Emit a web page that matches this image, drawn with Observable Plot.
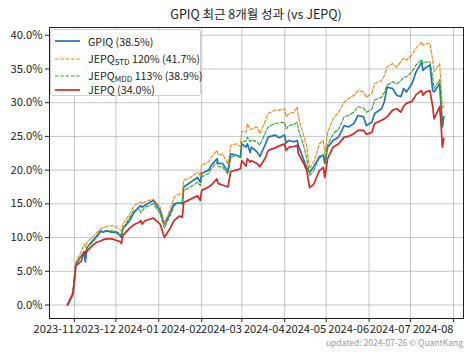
<!DOCTYPE html>
<html>
<head>
<meta charset="utf-8">
<script src="https://cdn.jsdelivr.net/npm/d3@7"></script>
<script src="https://cdn.jsdelivr.net/npm/@observablehq/plot@0.6"></script>
<style>
  body { margin: 0; background: #fff; }
  #wrap { position: relative; width: 474px; height: 355px; font-family: "Noto Sans CJK KR", "Noto Sans", sans-serif; color: #222; }
  #title { height: 24px; line-height: 28px; font-size: 12.5px; text-align: center; padding-left: 38px; box-sizing: border-box; }
  #legend { position: absolute; left: 50px; top: 29px; width: 151px; height: 67px; background: rgba(255,255,255,0.85); border: 1px solid #cfcfcf; border-radius: 3px; box-sizing: border-box; }
  .lrow { position: absolute; left: 0; height: 14px; display: flex; align-items: center; font-size: 10.7px; white-space: nowrap; }
  .lrow svg { margin-left: 4px; margin-right: 8px; }
  .lrow sub { font-size: 8px; vertical-align: -2px; }
  #footer { position: absolute; right: 11px; top: 336px; font-size: 8.5px; color: #999; }
</style>
</head>
<body>
<div id="wrap">
  <div id="title"></div>
  <div id="chart"></div>
  <div id="legend"></div>
  <div id="footer"></div>
</div>
<script>
const titleText = "GPIQ 최근 8개월 성과 (vs JEPQ)";
const footerText = "updated: 2024-07-26 © QuantKang";

const dates = [
  "2023-10-27","2023-10-31","2023-11-02","2023-11-06","2023-11-08","2023-11-09","2023-11-10","2023-11-14","2023-11-17","2023-11-20",
  "2023-11-22","2023-11-24","2023-11-28","2023-12-01","2023-12-04","2023-12-05","2023-12-06","2023-12-11","2023-12-14","2023-12-18",
  "2023-12-19","2023-12-20","2023-12-22","2023-12-28","2024-01-02","2024-01-05","2024-01-09","2024-01-12","2024-01-16","2024-01-18",
  "2024-01-19","2024-01-24","2024-01-29","2024-01-31","2024-02-01","2024-02-06","2024-02-08","2024-02-12","2024-02-13","2024-02-16",
  "2024-02-20","2024-02-22","2024-02-26","2024-02-29","2024-03-01","2024-03-04","2024-03-05","2024-03-07","2024-03-08","2024-03-12",
  "2024-03-14","2024-03-18","2024-03-20","2024-03-25","2024-03-28","2024-04-01","2024-04-02","2024-04-04","2024-04-08","2024-04-10",
  "2024-04-11","2024-04-15","2024-04-17","2024-04-19","2024-04-22","2024-04-24","2024-04-26","2024-04-29","2024-04-30","2024-05-02",
  "2024-05-06","2024-05-10","2024-05-14","2024-05-17","2024-05-21","2024-05-24","2024-05-28","2024-05-30","2024-06-03","2024-06-05",
  "2024-06-10","2024-06-12","2024-06-14","2024-06-18","2024-06-21","2024-06-24","2024-06-26","2024-06-28","2024-07-02","2024-07-05",
  "2024-07-09","2024-07-10","2024-07-12","2024-07-15","2024-07-17","2024-07-18","2024-07-22","2024-07-23","2024-07-24","2024-07-25"
];

const gpiq = [
  0, 1.8, 6.0, 7.3, 7.5, 6.4, 8.5, 9.5, 10.2, 11.0,
  10.8, 11.0, 10.8, 10.8, 10.3, 10.0, 11.3, 12.5, 13.7, 14.6,
  14.7, 14.5, 14.8, 15.5, 14.0, 12.0, 13.5, 15.0, 15.2, 15.0,
  17.5, 18.2, 18.9, 18.2, 19.5, 20.0, 20.7, 21.7, 21.0, 21.0,
  19.8, 22.4, 22.2, 21.9, 23.9, 23.4, 23.9, 22.6, 23.4, 22.7,
  22.0, 23.8, 24.9, 25.2, 24.8, 25.2, 24.0, 24.4, 24.2, 24.4,
  23.6, 21.4, 20.3, 19.7, 20.5, 21.2, 22.0, 22.2, 21.0, 23.4,
  24.4, 24.9, 26.6, 26.4, 26.9, 28.1, 27.9, 26.6, 27.1, 28.4,
  29.1, 30.1, 32.3, 32.1, 31.1, 30.9, 32.1, 31.6, 32.8, 34.6,
  36.0, 34.8, 35.2, 35.6, 31.8, 31.6, 32.8, 29.4, 26.4, 27.9
];

const jepqStd = [
  0, 1.9, 6.3, 8.0, 9.0, 8.6, 9.3, 10.0, 10.7, 11.3,
  11.5, 11.6, 11.8, 11.6, 11.2, 11.0, 12.0, 13.5, 14.7, 15.2,
  15.3, 15.0, 15.3, 15.7, 14.5, 12.2, 14.0, 16.0, 16.5, 16.3,
  18.5, 18.9, 19.7, 19.2, 20.7, 21.2, 21.9, 22.9, 22.2, 22.4,
  20.9, 23.7, 23.9, 23.5, 25.8, 25.6, 26.9, 26.0, 26.1, 26.4,
  25.4, 27.3, 28.4, 28.9, 28.9, 29.1, 27.9, 28.4, 28.6, 29.4,
  27.7, 24.9, 23.4, 20.2, 21.2, 22.4, 23.9, 24.4, 22.4, 25.6,
  27.6, 28.6, 30.1, 30.6, 31.1, 31.8, 31.6, 30.8, 31.4, 32.8,
  33.3, 34.0, 35.3, 35.8, 35.3, 36.1, 36.6, 36.3, 37.1, 38.1,
  39.0, 38.5, 38.7, 38.8, 36.3, 34.6, 35.8, 32.5, 29.1, 29.6
];

const jepqMdd = [
  0, 1.8, 6.0, 7.3, 8.0, 7.8, 8.5, 9.3, 10.0, 10.8,
  10.9, 11.0, 11.0, 10.9, 10.6, 10.3, 11.3, 13.0, 14.0, 14.3,
  13.7, 14.0, 14.5, 15.0, 13.5, 11.4, 13.2, 14.7, 15.2, 15.0,
  17.0, 17.5, 18.2, 17.7, 19.0, 19.5, 20.2, 21.2, 20.5, 20.5,
  19.4, 21.9, 22.2, 22.0, 24.2, 24.3, 24.9, 24.2, 24.5, 24.2,
  23.7, 25.5, 26.4, 26.9, 27.0, 27.1, 26.1, 26.6, 26.8, 27.1,
  26.0, 23.4, 21.7, 19.2, 19.9, 21.0, 21.7, 22.4, 20.9, 23.7,
  25.4, 26.1, 27.9, 28.1, 28.6, 29.4, 29.2, 28.6, 29.0, 30.4,
  30.8, 31.5, 32.6, 33.1, 32.8, 33.3, 33.8, 33.8, 34.6, 35.6,
  36.4, 35.8, 36.0, 36.1, 33.8, 32.1, 33.4, 30.5, 26.6, 27.9
];

const jepq = [
  0, 1.6, 5.8, 6.5, 7.9, 7.6, 8.0, 8.8, 9.3, 9.5,
  9.7, 9.8, 9.8, 9.6, 9.4, 9.1, 10.3, 11.4, 11.9, 12.3,
  12.5, 12.0, 12.5, 12.9, 12.0, 10.0, 11.3, 12.5, 13.2, 13.0,
  15.2, 15.7, 16.2, 15.5, 17.0, 17.5, 17.8, 18.7, 18.0, 17.8,
  17.5, 19.8, 20.0, 20.2, 21.4, 20.6, 21.7, 21.2, 21.4, 21.0,
  20.5, 21.8, 22.9, 23.3, 23.6, 23.9, 22.9, 23.4, 23.5, 23.7,
  22.4, 20.9, 19.9, 17.4, 17.9, 18.9, 19.9, 20.4, 18.9, 21.7,
  23.4, 23.9, 24.9, 25.0, 25.4, 25.9, 25.9, 25.3, 25.6, 26.9,
  27.4, 27.6, 27.9, 28.9, 29.1, 28.6, 29.5, 29.9, 30.2, 31.2,
  31.8, 31.1, 31.6, 31.8, 29.4, 27.6, 29.4, 26.9, 23.4, 24.7
];

const legendNames = ["GPIQ", "JEPQ", "JEPQ", "JEPQ"];
const legendSubs = ["", "STD", "MDD", ""];
const legendRest = [" (38.5%)", " 120% (41.7%)", " 113% (38.9%)", " (34.0%)"];
const yTicks = [0, 5, 10, 15, 20, 25, 30, 35, 40];
const xTickLabels = ["2023-11","2023-12","2024-01","2024-02","2024-03","2024-04","2024-05","2024-06","2024-07","2024-08"];

// styles (kept apart from data)
const colors = ["#1f77b4", "#ff7f0e", "#2ca02c", "#d62728"];
const widths = [1.7, 1.1, 1.1, 1.7];
const dashes = [null, "3.5,1.8", "3.5,1.8", null];
const legendY = [11, 28.5, 45.5, 59.5];

const parseDay = d3.utcParse("%Y-%m-%d");
const parseMonth = d3.utcParse("%Y-%m");
const seriesArrays = [gpiq, jepqStd, jepqMdd, jepq];
const tables = seriesArrays.map(arr => arr.map((v, i) => ({date: parseDay(dates[i]), value: v})));
const monthTicks = xTickLabels.map(parseMonth);

document.getElementById("title").textContent = titleText;
document.getElementById("footer").textContent = footerText;

const chart = Plot.plot({
  width: 474,
  height: 331,
  marginLeft: 49,
  marginRight: 11,
  marginTop: 3,
  marginBottom: 37,
  style: {fontFamily: "'Noto Sans CJK KR', 'Noto Sans', sans-serif", fontSize: "11px", color: "#222", background: "#fff"},
  x: {type: "utc", domain: [new Date(Date.UTC(2023, 9, 14)), new Date(Date.UTC(2024, 7, 8, 6))]},
  y: {domain: [-2.0, 41.15]},
  marks: [
    Plot.gridX(monthTicks, {stroke: "#b8b8b8", strokeOpacity: 0.8}),
    Plot.gridY(yTicks, {stroke: "#b8b8b8", strokeOpacity: 0.8}),
    Plot.axisX(monthTicks, {tickFormat: d3.utcFormat("%Y-%m"), textAnchor: "end", tickSize: 4, tickPadding: 3, fontSize: 11.1, label: null, stroke: "#222", fill: "#222"}),
    Plot.axisY(yTicks, {tickFormat: d => d.toFixed(1) + "%", tickSize: 4, tickPadding: 3, fontSize: 11.2, label: null, stroke: "#222", fill: "#222"}),
    ...tables.map((t, k) => Plot.line(t, {
      x: "date", y: "value", stroke: colors[k], strokeWidth: widths[k],
      strokeDasharray: dashes[k] || undefined, strokeLinejoin: "round"
    })),
    Plot.frame({stroke: "#222", strokeWidth: 1})
  ]
});
document.getElementById("chart").appendChild(chart);

const legend = document.getElementById("legend");
legendNames.forEach((name, k) => {
  const row = document.createElement("div");
  row.className = "lrow";
  row.style.top = (legendY[k] - 7) + "px";
  const dash = dashes[k] ? `stroke-dasharray="${dashes[k]}"` : "";
  row.innerHTML = `<svg width="25" height="6"><line x1="0" y1="3" x2="25" y2="3" stroke="${colors[k]}" stroke-width="${widths[k]}" ${dash}/></svg>`;
  const label = document.createElement("span");
  label.append(name);
  if (legendSubs[k]) {
    const sub = document.createElement("sub");
    sub.textContent = legendSubs[k];
    label.append(sub);
  }
  label.append(legendRest[k]);
  row.appendChild(label);
  legend.appendChild(row);
});
</script>
</body>
</html>
